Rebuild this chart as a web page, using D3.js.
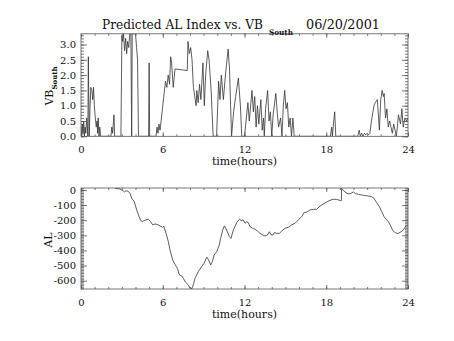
<!DOCTYPE html>
<html><head><meta charset="utf-8">
<script src="https://cdn.jsdelivr.net/npm/d3@7"></script>
<style>body{margin:0;background:#fff}svg{display:block}text{font-family:"DejaVu Serif","Liberation Serif",serif;fill:#111}</style>
</head><body><svg id="c" width="454" height="341"></svg>
<script>
// ---- data ----
const xTicks = [0, 6, 12, 18, 24];
const vbTicks = [0.0, 0.5, 1.0, 1.5, 2.0, 2.5, 3.0];
const alTicks = [0, -100, -200, -300, -400, -500, -600];
const vbTime = [0.00,0.05,0.10,0.15,0.20,0.25,0.30,0.35,0.42,0.50,0.54,0.60,0.66,0.72,0.80,0.86,0.92,0.98,1.05,1.12,1.18,1.22,1.26,1.32,1.38,1.44,2.20,2.26,2.32,2.37,2.42,2.47,2.93,3.00,3.05,3.12,3.20,3.28,3.35,3.42,3.50,3.58,3.66,3.72,3.76,3.90,4.00,4.08,4.15,4.22,4.96,5.00,5.04,5.50,5.58,5.65,5.72,5.80,5.88,6.00,6.10,6.20,6.30,6.40,6.50,6.58,6.65,6.77,6.90,7.80,7.85,7.95,8.05,8.15,8.25,8.35,8.45,8.50,8.60,8.70,8.80,8.95,9.05,9.15,9.30,9.40,9.55,9.70,9.95,10.10,10.20,10.30,10.45,10.60,10.80,10.90,10.98,11.05,11.20,11.35,11.55,11.70,11.80,12.00,12.25,12.35,12.55,12.65,12.75,12.85,12.95,13.05,13.20,13.30,13.40,13.45,13.55,13.70,13.80,13.90,14.00,14.10,14.30,14.40,14.50,14.65,14.75,14.85,14.95,15.05,15.15,15.25,15.35,15.45,15.55,15.65,18.30,18.40,18.45,18.55,18.62,18.70,20.30,20.42,20.50,20.60,20.70,20.80,20.90,21.00,21.10,21.20,21.35,21.50,21.60,21.75,21.90,22.00,22.10,22.20,22.25,22.35,22.45,22.55,22.65,22.75,22.85,22.95,23.05,23.15,23.30,23.45,23.55,23.65,23.78,23.90,24.00];
const vbValue = [0.3,0.0,0.4,0.1,0.5,0.0,0.3,0.1,0.6,0.0,2.6,0.0,0.9,1.6,1.5,1.2,1.6,1.0,0.6,0.3,0.5,0.1,0.6,0.0,0.3,0.0,0.0,0.3,0.1,0.4,0.7,0.0,0.0,3.3,3.1,3.35,2.8,3.2,2.7,3.1,2.9,3.35,3.35,0.0,3.35,3.35,3.35,2.9,2.5,0.0,0.0,2.4,0.0,0.0,0.3,0.1,0.4,0.2,0.5,1.0,1.4,1.8,1.6,2.0,1.7,2.6,2.4,1.6,2.2,2.15,3.1,2.7,2.9,2.5,1.6,1.3,1.0,1.5,1.1,1.7,1.2,2.4,1.0,2.0,2.8,2.5,1.5,0.0,0.0,1.8,1.2,2.0,1.2,2.0,2.85,2.2,1.0,0.0,0.8,1.3,1.9,1.0,0.0,0.0,1.1,0.5,1.5,0.8,1.3,0.3,1.0,0.4,1.2,0.2,0.6,0.0,0.9,1.5,0.5,0.8,0.0,0.7,1.4,0.8,0.3,0.6,0.0,1.0,1.5,0.9,1.1,0.3,0.6,0.0,0.6,0.0,0.0,0.3,0.0,0.5,0.8,0.0,0.0,0.2,0.0,0.1,0.0,0.1,0.05,0.1,0.05,0.1,0.6,1.0,1.1,1.2,0.2,1.2,1.5,1.3,1.4,0.6,0.9,0.3,0.5,0.3,0.1,0.4,0.2,0.0,0.7,0.4,0.9,0.3,0.6,0.5,0.6];
const alTime = [2.50,2.86,3.06,3.20,3.30,3.45,3.60,3.72,3.91,4.09,4.26,4.40,4.50,4.60,4.77,4.94,5.11,5.26,5.43,5.60,5.80,5.99,6.08,6.24,6.41,6.53,6.73,6.90,7.07,7.22,7.39,7.51,7.68,7.88,8.00,8.12,8.24,8.37,8.61,8.86,9.03,9.23,9.35,9.52,9.64,9.77,9.96,10.15,10.25,10.40,10.52,10.69,10.89,11.01,11.18,11.43,11.62,11.79,11.90,12.04,12.16,12.28,12.40,12.60,12.77,12.94,13.14,13.33,13.50,13.68,13.82,13.94,14.07,14.20,14.36,14.56,14.75,14.97,15.22,15.46,15.71,15.95,16.20,16.37,16.57,16.81,17.05,17.30,17.49,17.79,18.03,18.28,18.52,18.76,19.06,19.11,19.13,19.26,19.45,19.62,19.80,19.99,20.17,20.35,20.60,20.85,21.09,21.33,21.50,21.70,21.90,22.07,22.24,22.39,22.56,22.73,22.88,23.00,23.17,23.29,23.46,23.66,23.81,23.95];
const alValue = [10,7,-4,-13,-5,-9,-22,-55,-77,-132,-176,-203,-210,-203,-198,-194,-209,-231,-225,-228,-238,-247,-240,-287,-342,-397,-463,-492,-518,-562,-569,-584,-611,-628,-650,-655,-628,-584,-540,-507,-485,-445,-460,-496,-474,-430,-408,-364,-320,-265,-238,-265,-309,-320,-265,-216,-194,-203,-198,-220,-210,-216,-242,-254,-260,-271,-287,-298,-304,-298,-276,-295,-298,-282,-287,-287,-270,-254,-247,-231,-220,-198,-176,-150,-146,-132,-128,-128,-110,-92,-80,-68,-62,-62,-71,-71,11,-4,-18,-26,-24,-13,-25,-29,-33,-37,-40,-44,-55,-84,-110,-143,-176,-194,-209,-238,-269,-278,-287,-287,-278,-265,-242,-231];

// ---- drawing ----
const svg = d3.select("#c");
svg.append("rect").attr("width",454).attr("height",341).attr("fill","#fff");
const L = 81, R = 408;
const x = d3.scaleLinear().domain([0,24]).range([L,R]);
const yTop = d3.scaleLinear().domain([0,3.35]).range([136.3,33.8]);
const yBot = d3.scaleLinear().domain([-655,13]).range([289,188]);
const fmt1 = d3.format(".1f");
const fmtInt = d => String(d); // plain hyphen minus like the original

function panel(y, yMajor, yMinor, yFmt, time, val, id) {
  const [b, t] = y.range();
  const g = svg.append("g");
  svg.append("clipPath").attr("id", id).append("rect")
    .attr("x", L).attr("y", t).attr("width", R - L).attr("height", b - t);
  g.append("path").datum(d3.zip(time, val))
    .attr("clip-path", `url(#${id})`)
    .attr("fill","none").attr("stroke","#333").attr("stroke-width",0.8)
    .attr("d", d3.line().x(d => x(d[0])).y(d => y(d[1])));
  const st = sel => { sel.select(".domain").remove(); sel.selectAll("line").attr("stroke","#555").attr("stroke-width",0.8); };
  const xMinor = d3.range(0,25,1);
  g.append("g").attr("transform",`translate(0,${b})`)
    .call(d3.axisBottom(x).tickValues(xTicks).tickSize(-4).tickPadding(10).tickFormat(d3.format("d")))
    .call(st).call(s => s.selectAll("text").attr("font-size",10).attr("font-family","DejaVu Serif"));
  g.append("g").attr("transform",`translate(0,${b})`)
    .call(d3.axisBottom(x).tickValues(xMinor).tickSize(-2).tickFormat("")).call(st);
  g.append("g").attr("transform",`translate(0,${t})`)
    .call(d3.axisTop(x).tickValues(xTicks).tickSize(-4).tickFormat("")).call(st);
  g.append("g").attr("transform",`translate(0,${t})`)
    .call(d3.axisTop(x).tickValues(xMinor).tickSize(-2).tickFormat("")).call(st);
  g.append("g").attr("transform",`translate(${L},0)`)
    .call(d3.axisLeft(y).tickValues(yMajor).tickSize(-6).tickPadding(5).tickFormat(yFmt))
    .call(st).call(s => s.selectAll("text").attr("font-size",10).attr("font-family","DejaVu Serif"));
  g.append("g").attr("transform",`translate(${L},0)`)
    .call(d3.axisLeft(y).tickValues(yMinor).tickSize(-3).tickFormat("")).call(st);
  g.append("g").attr("transform",`translate(${R},0)`)
    .call(d3.axisRight(y).tickValues(yMajor).tickSize(-6).tickFormat("")).call(st);
  g.append("g").attr("transform",`translate(${R},0)`)
    .call(d3.axisRight(y).tickValues(yMinor).tickSize(-3).tickFormat("")).call(st);
  g.append("rect").attr("x",L).attr("y",t).attr("width",R-L).attr("height",b-t)
    .attr("fill","none").attr("stroke","#555").attr("stroke-width",0.8);
  g.append("text").attr("x",(L+R)/2).attr("y",b+29).attr("text-anchor","middle")
    .attr("font-size",11).text("time(hours)");
  return g;
}

const vbMinor = d3.range(0,34).map(i => i/10);
panel(yTop, vbTicks, vbMinor, fmt1, vbTime, vbValue, "cTop");
const alMinor = d3.range(-650, 11, 10);
panel(yBot, alTicks, alMinor, fmtInt, alTime, alValue, "cBot");

// title
svg.append("text").attr("x",102).attr("y",29).attr("font-size",12.5)
  .attr("textLength",161).attr("lengthAdjust","spacingAndGlyphs").text("Predicted AL Index vs. VB");
svg.append("text").attr("x",269).attr("y",34.5).attr("font-size",7.5).attr("font-weight","bold")
  .attr("textLength",24).attr("lengthAdjust","spacingAndGlyphs").text("South");
svg.append("text").attr("x",306).attr("y",29).attr("font-size",12.5)
  .attr("textLength",74).attr("lengthAdjust","spacingAndGlyphs").text("06/20/2001");

// y labels
const yl = svg.append("text").attr("transform","translate(53,86) rotate(-90)").attr("text-anchor","middle").attr("font-size",11);
yl.append("tspan").text("VB");
yl.append("tspan").attr("dy",4).attr("font-size",7).attr("font-weight","bold").text("South");
svg.append("text").attr("transform","translate(52,240) rotate(-90)").attr("text-anchor","middle").attr("font-size",11).text("AL");
</script></body></html>
